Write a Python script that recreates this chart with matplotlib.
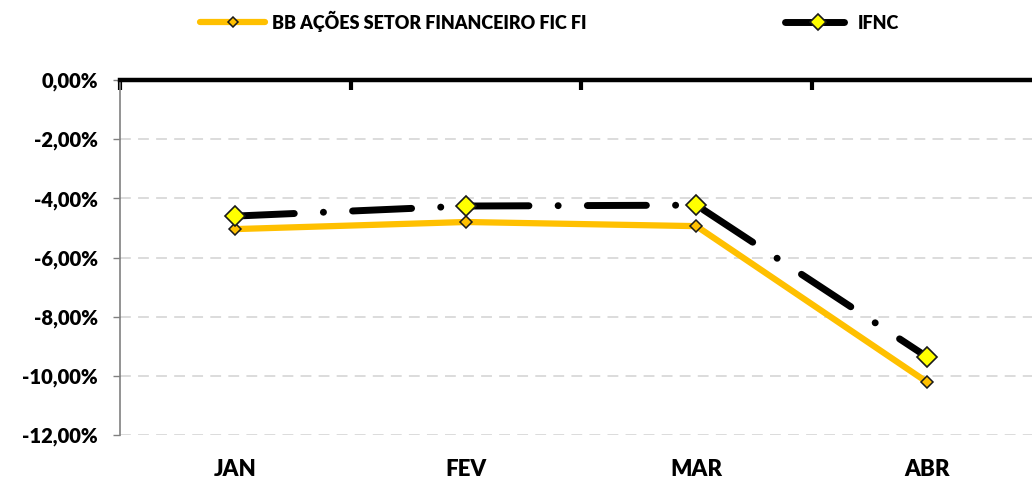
import matplotlib
matplotlib.use("Agg")
import matplotlib.pyplot as plt
from matplotlib.ticker import FuncFormatter, FixedLocator

categories = ["JAN", "FEV", "MAR", "ABR"]
bb_values = [-5.04, -4.80, -4.94, -10.21]
ifnc_values = [-4.60, -4.26, -4.23, -9.36]
series_names = ["BB AÇÕES SETOR FINANCEIRO FIC FI", "IFNC"]
y_ticks = [0, -2, -4, -6, -8, -10, -12]

plt.rcParams['font.family'] = ['Lato', 'DejaVu Sans']
plt.rcParams['font.weight'] = 'heavy'

fig = plt.figure(figsize=(10.32, 4.80), dpi=100)
ax = fig.add_axes([120/1032, 1 - 435/480, 1 - 120/1032, (435 - 80)/480])

x = list(range(len(categories)))
l1, = ax.plot(x, bb_values, color="#FFC000", lw=4.5, solid_capstyle='round',
              marker='D', ms=6.5, mfc="#FFC000", mec="#1a1a1a", mew=1.1, zorder=3,
              label=series_names[0])
l2, = ax.plot(x, ifnc_values, color="black", lw=5, dash_capstyle='round',
              linestyle=(0, (8.5, 4.2, 0.01, 4.2)),
              marker='D', ms=10.5, mfc="#FFFF00", mec="#1a1a1a", mew=1.2, zorder=4,
              label=series_names[1])

ax.set_xlim(-0.5, 3 + (1032 - 927) / 230.5)
ax.set_ylim(-12, 0)

ax.yaxis.set_major_locator(FixedLocator(y_ticks))
ax.yaxis.set_major_formatter(FuncFormatter(lambda v, p: f"{v:.2f}%".replace(".", ",")))
ax.grid(axis='y', color="#D9D9D9", linestyle=(0, (6, 4)), lw=1.3, zorder=0)

ax.set_xticks(x)
ax.set_xticklabels(categories)
ax.set_xticks([-0.5, 0.5, 1.5, 2.5], minor=True)
ax.tick_params(axis='x', which='major', length=0, pad=17, labelsize=16)
ax.tick_params(axis='x', which='minor', top=True, bottom=False, direction='in',
               length=7, width=3, color='black')
ax.tick_params(axis='y', which='major', length=5, width=1, color="#808080",
               pad=11, labelsize=14.5)

for s in ['right', 'bottom']:
    ax.spines[s].set_visible(False)
ax.spines['left'].set_color("#808080")
ax.spines['left'].set_linewidth(1.2)
ax.spines['top'].set_color('black')
ax.spines['top'].set_linewidth(3.2)
ax.spines['top'].set_zorder(5)

fig.legend(handles=[l1, l2], loc='center left', bbox_to_anchor=(200/1032, 1 - 21/480),
           ncol=2, frameon=False, fontsize=13, handlelength=3.6, handletextpad=0.4,
           columnspacing=11.0, markerscale=0.8, borderaxespad=0, borderpad=0)

fig.savefig("out.png", dpi=100)
